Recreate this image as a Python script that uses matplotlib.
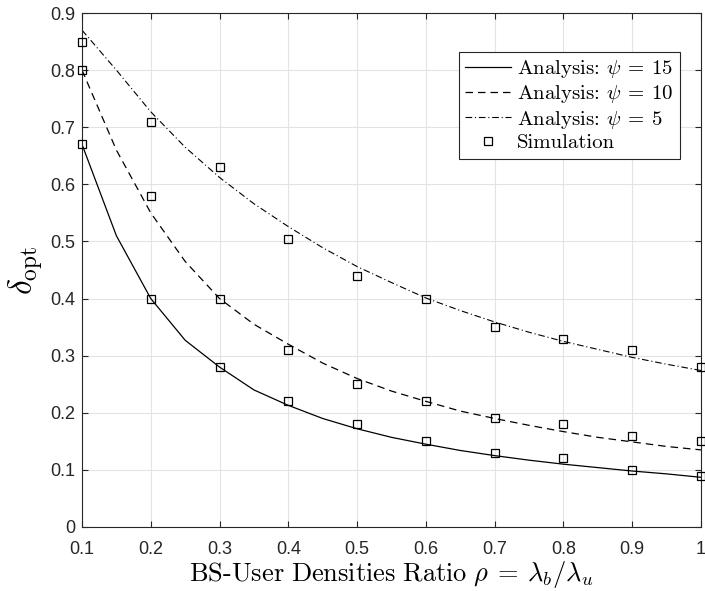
import matplotlib
matplotlib.use('Agg')
import matplotlib.pyplot as plt

plt.rcParams['mathtext.fontset'] = 'cm'
plt.rcParams['axes.formatter.use_mathtext'] = True

# analysis curves (rho sampled every 0.05)
rho = [0.1, 0.15, 0.2, 0.25, 0.3, 0.35, 0.4, 0.45, 0.5, 0.55,
       0.6, 0.65, 0.7, 0.75, 0.8, 0.85, 0.9, 0.95, 1.0]
psi15 = [0.67, 0.51, 0.40, 0.327, 0.28, 0.24, 0.213, 0.19, 0.172, 0.157,
         0.145, 0.134, 0.125, 0.117, 0.11, 0.104, 0.098, 0.093, 0.087]
psi10 = [0.80, 0.66, 0.55, 0.465, 0.40, 0.355, 0.32, 0.287, 0.26, 0.238,
         0.22, 0.203, 0.19, 0.178, 0.167, 0.157, 0.149, 0.141, 0.135]
psi5 = [0.87, 0.80, 0.727, 0.665, 0.612, 0.566, 0.526, 0.489, 0.456, 0.428,
        0.401, 0.379, 0.359, 0.341, 0.325, 0.311, 0.297, 0.285, 0.274]

# simulation points
rho_sim = [0.1, 0.2, 0.3, 0.4, 0.5, 0.6, 0.7, 0.8, 0.9, 1.0]
sim15 = [0.67, 0.40, 0.28, 0.22, 0.18, 0.15, 0.13, 0.12, 0.10, 0.09]
sim10 = [0.80, 0.58, 0.40, 0.31, 0.25, 0.22, 0.19, 0.18, 0.16, 0.15]
sim5 = [0.85, 0.71, 0.63, 0.505, 0.44, 0.40, 0.35, 0.33, 0.31, 0.28]

xticks = [0.1, 0.2, 0.3, 0.4, 0.5, 0.6, 0.7, 0.8, 0.9, 1.0]
xtick_labels = ['0.1', '0.2', '0.3', '0.4', '0.5', '0.6', '0.7', '0.8', '0.9', '1']
yticks = [0, 0.1, 0.2, 0.3, 0.4, 0.5, 0.6, 0.7, 0.8, 0.9]
ytick_labels = ['0', '0.1', '0.2', '0.3', '0.4', '0.5', '0.6', '0.7', '0.8', '0.9']

fig = plt.figure(figsize=(7.05, 5.91), dpi=100)
ax = fig.add_axes([0.1163, 0.1083, 0.878, 0.8697])

ax.plot(rho, psi15, color='black', linestyle='-', linewidth=0.9,
        label=r'Analysis: $\psi\:=\:15$')
ax.plot(rho, psi10, color='black', linestyle=(0, (6, 4)), linewidth=0.9,
        label=r'Analysis: $\psi\:=\:10$')
ax.plot(rho, psi5, color='black', linestyle=(0, (6, 2.5, 1, 2.5)), linewidth=0.8,
        label=r'Analysis: $\psi\:=\:5$')
ax.plot(rho_sim + rho_sim + rho_sim, sim15 + sim10 + sim5, linestyle='none',
        marker='s', markersize=6, markerfacecolor='none', markeredgecolor='black',
        markeredgewidth=0.9, label='Simulation', clip_on=False, zorder=5)

ax.set_xlim(0.1, 1)
ax.set_ylim(0, 0.9)
ax.set_xticks(xticks)
ax.set_xticklabels(xtick_labels)
ax.set_yticks(yticks)
ax.set_yticklabels(ytick_labels)
for lab in ax.get_xticklabels() + ax.get_yticklabels():
    lab.set_fontfamily('Liberation Sans')
    lab.set_fontsize(13)

ax.tick_params(direction='in', top=True, right=True, length=4.5, width=0.8,
               colors='#262626', labelcolor='#262626')
ax.tick_params(axis='x', pad=10)
ax.tick_params(axis='y', pad=5)
ax.grid(True, color='#e3e3e3', linewidth=0.8)
ax.set_axisbelow(True)
for s in ax.spines.values():
    s.set_color('#262626')
    s.set_linewidth(0.8)

ax.set_xlabel(r'$\mathrm{BS\text{-}User\ Densities\ Ratio}\ \rho\:=\:\lambda_b/\lambda_u$',
              fontsize=19, labelpad=1)
ax.set_ylabel(r'$\delta_{\mathrm{opt}}$', fontsize=24, labelpad=3)

leg = ax.legend(loc='upper right', bbox_to_anchor=(0.966, 0.924),
                prop={'family': 'serif', 'size': 15}, fancybox=False,
                edgecolor='#262626', framealpha=1, borderpad=0.3,
                handlelength=2.2, handletextpad=0.3, labelspacing=0.15,
                borderaxespad=0)
leg.get_frame().set_linewidth(0.8)
for t in leg.get_texts():
    t.set_fontfamily('cmr10')

plt.savefig('out.png', dpi=100)
